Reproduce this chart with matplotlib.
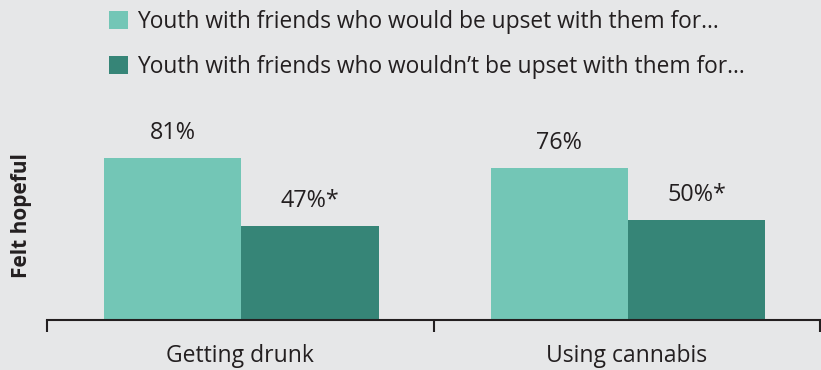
import matplotlib
matplotlib.use("Agg")
import matplotlib.pyplot as plt
import numpy as np

# data
categories = ["Getting drunk", "Using cannabis"]
would_upset = [81, 76]
wouldnt_upset = [47, 50]
would_labels = ["81%", "76%"]
wouldnt_labels = ["47%*", "50%*"]
series_names = [
    "Youth with friends who would be upset with them for…",
    "Youth with friends who wouldn’t be upset with them for…",
]

bg = "#E6E7E8"
light = "#73C6B6"
dark = "#368577"
ink = "#231F20"

plt.rcParams["font.family"] = ["Open Sans", "DejaVu Sans"]

fig = plt.figure(figsize=(8.21, 3.70), dpi=100, facecolor=bg)
ax = fig.add_axes([47 / 821, 50 / 370, 773 / 821, 200 / 370], facecolor=bg)

x = np.arange(len(categories))
w = 0.355
b1 = ax.bar(x - w / 2 + 0.003, would_upset, w, color=light, label=series_names[0])
b2 = ax.bar(x + w / 2 + 0.003, wouldnt_upset, w, color=dark, label=series_names[1])

for bars, labs in [(b1, would_labels), (b2, wouldnt_labels)]:
    for r, t in zip(bars, labs):
        ax.annotate(t, (r.get_x() + r.get_width() / 2, r.get_height()),
                    xytext=(0, 18), textcoords="offset points",
                    ha="center", va="center", fontsize=16.8, color=ink)

ax.set_xlim(-0.5, len(categories) - 0.5)
ax.set_ylim(0, 100)
ax.set_xticks(x)
ax.set_xticklabels(categories, fontsize=16.5, color=ink)
ax.tick_params(axis="x", length=0, pad=17)
# boundary ticks between categories
ax.set_xticks(np.arange(-0.5, len(categories)), minor=True)
ax.tick_params(axis="x", which="minor", length=8.5, width=1.5, color=ink, direction="out")
ax.set_yticks([])
for s in ["top", "right", "left"]:
    ax.spines[s].set_visible(False)
ax.spines["bottom"].set_color(ink)
ax.spines["bottom"].set_linewidth(1.5)

fig.text(22 / 821, 1 - 216 / 370, "Felt hopeful", rotation=90, ha="center", va="center",
         fontsize=15, fontweight="bold", color=ink)

fig.legend(handles=[b1, b2], loc="upper left", bbox_to_anchor=(109 / 821, 1 - 10 / 370),
           frameon=False, fontsize=16.4, handlelength=0.83, handleheight=0.83,
           handletextpad=0.42, labelspacing=0.92, borderpad=0, borderaxespad=0,
           labelcolor=ink)

fig.savefig("out.png", dpi=100, facecolor=bg)
